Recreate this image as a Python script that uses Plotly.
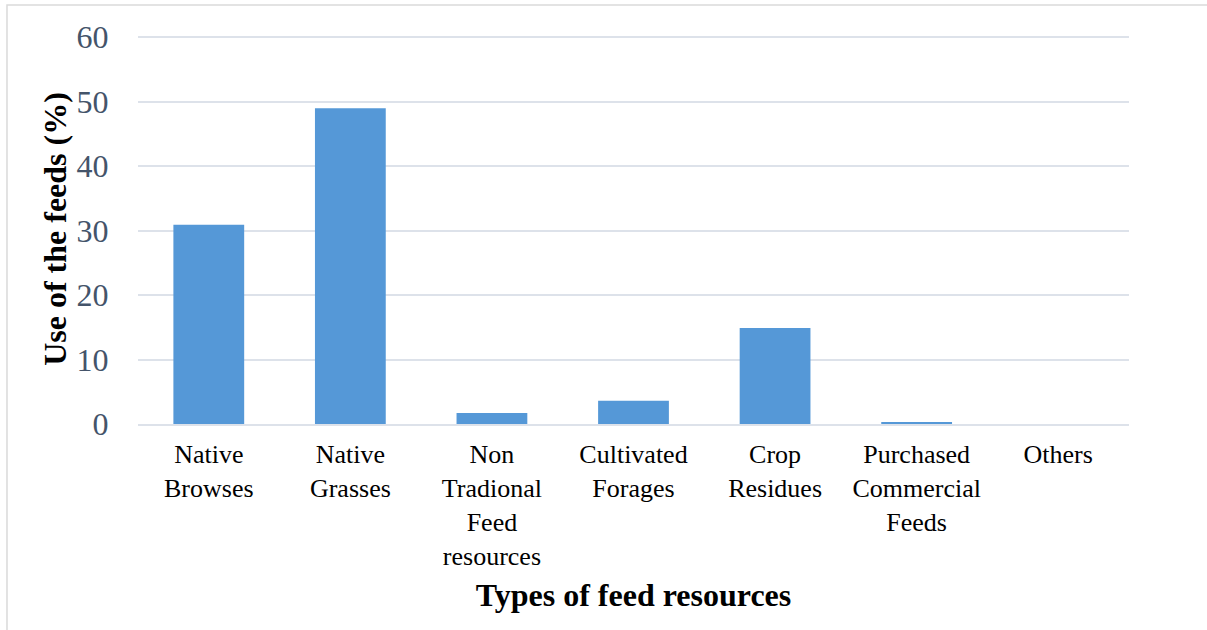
import plotly.graph_objects as go

# Feed resource categories and their share of use (%)
categories = [
    "Native<br>Browses",
    "Native<br>Grasses",
    "Non<br>Tradional<br>Feed<br>resources",
    "Cultivated<br>Forages",
    "Crop<br>Residues",
    "Purchased<br>Commercial<br>Feeds",
    "Others",
]
use_pct = [30.9, 49.0, 1.7, 3.6, 14.9, 0.2, 0.0]
y_ticks = [0, 10, 20, 30, 40, 50, 60]

FONT = "Liberation Serif"

fig = go.Figure(
    go.Bar(
        x=categories,
        y=use_pct,
        marker=dict(color="#5598d7", line=dict(width=0)),
        hoverinfo="x+y",
    )
)

fig.update_layout(
    width=1207,
    height=630,
    margin=dict(l=138, r=78, t=34, b=206),
    paper_bgcolor="white",
    plot_bgcolor="white",
    bargap=0.5,
    showlegend=False,
    font=dict(family=FONT, size=26, color="black"),
    shapes=[
        dict(
            type="rect", xref="paper", yref="paper",
            x0=-0.1322, x1=1.2, y0=-0.7, y1=1.0744,
            line=dict(color="#dadada", width=1.5),
            fillcolor="rgba(0,0,0,0)", layer="below",
        )
    ],
)

fig.update_xaxes(
    type="category",
    showgrid=False,
    showline=True,
    linecolor="#dde2ea",
    linewidth=2,
    ticks="outside",
    ticklen=6,
    tickcolor="rgba(0,0,0,0)",
    tickfont=dict(family=FONT, size=26, color="black"),
    title=dict(
        text="<b>Types of feed resources</b>",
        font=dict(family=FONT, size=32, color="black"),
        standoff=14,
    ),
)

fig.update_yaxes(
    range=[0, 60.5],
    tickvals=y_ticks,
    showgrid=True,
    gridcolor="#dde2ea",
    gridwidth=2,
    zeroline=False,
    showline=False,
    ticks="outside",
    ticklen=22,
    tickcolor="rgba(0,0,0,0)",
    tickfont=dict(family=FONT, size=32, color="#44546a"),
    title=dict(
        text="<b>Use of the feeds (%)</b>",
        font=dict(family=FONT, size=32, color="black"),
        standoff=0,
    ),
)

fig.write_html("out.html")
